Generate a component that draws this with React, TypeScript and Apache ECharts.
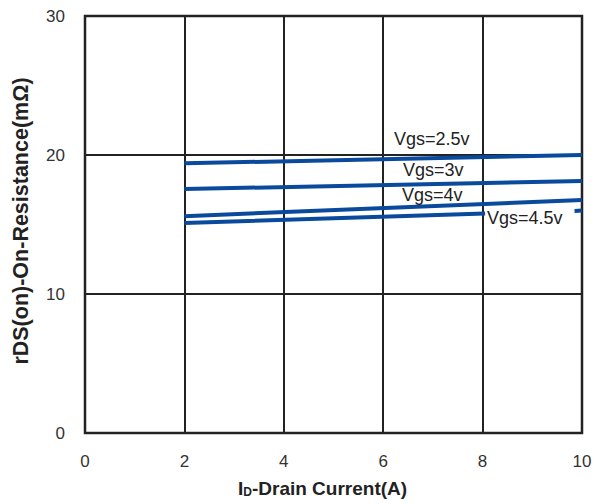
import React, { useEffect, useRef } from "react";
import * as echarts from "echarts";

const xTicks = [0, 2, 4, 6, 8, 10];
const yTicks = [0, 10, 20, 30];
const vgs25: [number, number][] = [[2, 19.4], [10, 20.0]];
const vgs3: [number, number][] = [[2, 17.55], [10, 18.13]];
const vgs4: [number, number][] = [[2, 15.6], [10, 16.76]];
const vgs45: (number | string)[][] = [[2, 15.1], [8.05, 15.8], [9, "-"], [9.85, 15.98], [10, 16.0]];
const labels = [
  { text: "Vgs=2.5v", x: 394, y: 130 },
  { text: "Vgs=3v", x: 403, y: 161 },
  { text: "Vgs=4v", x: 402, y: 186 },
  { text: "Vgs=4.5v", x: 487, y: 209 },
];

export default function App() {
  const ref = useRef<HTMLDivElement>(null);
  useEffect(() => {
    const chart = echarts.init(ref.current!, null, { renderer: "svg" });
    const lineStyle = { color: "#0a4a9c", width: 4 };
    const mk = (name: string, data: any) => ({
      type: "line",
      name,
      data,
      showSymbol: false,
      symbol: "none",
      lineStyle,
      connectNulls: false,
    });
    chart.setOption({
      animation: false,
      backgroundColor: "#fff",
      grid: {
        left: 85,
        right: 13,
        top: 16,
        bottom: 71,
        show: true,
        borderColor: "#222",
        borderWidth: 2.5,
      },
      xAxis: {
        type: "value",
        min: xTicks[0],
        max: xTicks[xTicks.length - 1],
        interval: 2,
        axisLine: { show: false },
        axisTick: { show: false },
        axisLabel: { color: "#333", fontSize: 17, fontFamily: "Liberation Sans, Arial", margin: 20 },
        splitLine: { show: true, lineStyle: { color: "#222", width: 2 } },
      },
      yAxis: {
        type: "value",
        min: yTicks[0],
        max: yTicks[yTicks.length - 1],
        interval: 10,
        axisLine: { show: false },
        axisTick: { show: false },
        axisLabel: { color: "#333", fontSize: 17, fontFamily: "Liberation Sans, Arial", margin: 20 },
        splitLine: { show: true, lineStyle: { color: "#222", width: 2 } },
      },
      series: [
        mk("Vgs=2.5v", vgs25),
        mk("Vgs=3v", vgs3),
        mk("Vgs=4v", vgs4),
        mk("Vgs=4.5v", vgs45),
      ],
      graphic: [
        ...labels.map((l) => ({
          type: "text",
          left: l.x,
          top: l.y,
          z: 100,
          style: {
            text: l.text,
            fontSize: 18,
            fontFamily: "Liberation Sans, Arial",
            fill: "#222",
          },
        })),
        {
          type: "text",
          x: 21,
          y: 221,
          rotation: Math.PI / 2,
          style: {
            text: "rDS(on)-On-Resistance(mΩ)",
            fontSize: 21.5,
            fontWeight: "bold",
            fontFamily: "Liberation Sans, Arial",
            fill: "#222",
            align: "center",
            verticalAlign: "middle",
          },
        },
        {
          type: "text",
          left: 238,
          top: 479,
          style: {
            rich: {
              b: { fontSize: 19, fontWeight: "bold", fontFamily: "Liberation Sans, Arial", fill: "#222" },
              s: { fontSize: 12, fontWeight: "bold", fontFamily: "Liberation Sans, Arial", fill: "#222", padding: [6, 0, 0, 0] },
            },
            text: "{b|I}{s|D}{b|-Drain Current(A)}",
          },
        },
      ],
    });
    return () => chart.dispose();
  }, []);
  return <div ref={ref} style={{ width: 595, height: 504, position: "absolute", left: 0, top: 0 }} />;
}
